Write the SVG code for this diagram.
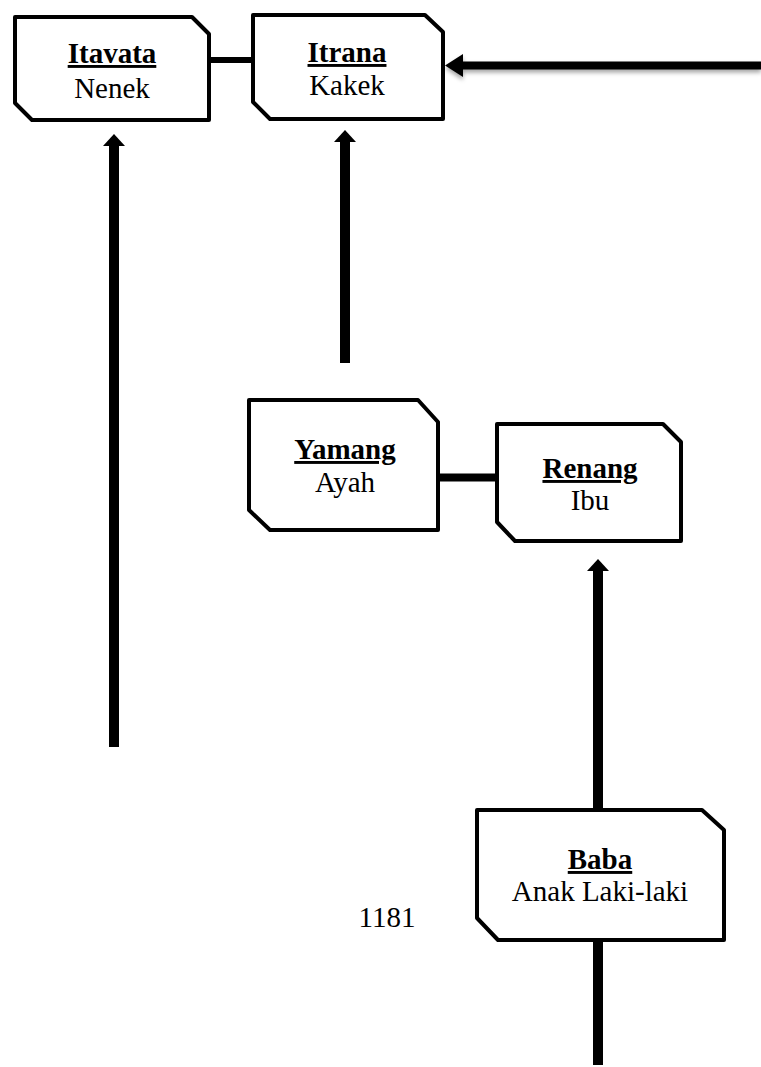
<svg xmlns="http://www.w3.org/2000/svg" width="761" height="1067" viewBox="0 0 761 1067">
<style>
.box{fill:#fff;stroke:#000;stroke-width:4;stroke-linejoin:round}
.t{font-family:"Liberation Serif","Times New Roman",serif;font-size:29px;fill:#000;text-anchor:middle}
.b{font-weight:bold;text-decoration:underline}
.link{stroke:#000;fill:none}
.num{font-family:"Liberation Serif","Times New Roman",serif;font-size:29px;fill:#000;text-anchor:middle}
</style>
<defs>
<marker id="headUp" markerUnits="userSpaceOnUse" viewBox="0 0 12 22" markerWidth="12" markerHeight="22" refX="0" refY="11" orient="auto">
<path d="M0,0 L12,11 L0,22 Z" fill="#000"/>
</marker>
<marker id="headLeft" markerUnits="userSpaceOnUse" viewBox="0 0 18 23" markerWidth="18" markerHeight="23" refX="0" refY="11.5" orient="auto">
<path d="M0,0 L18,11.5 L0,23 Z" fill="#000"/>
</marker>
<filter id="shadow" filterUnits="userSpaceOnUse" x="430" y="40" width="340" height="60">
<feDropShadow dx="0" dy="3" stdDeviation="2" flood-color="#000" flood-opacity="0.35"/>
</filter>
</defs>
<rect width="761" height="1067" fill="#fff"/>
<g id="connectors">
<line class="link" x1="211" y1="60" x2="251" y2="60" stroke-width="6"/>
<line class="link" x1="440" y1="477.5" x2="495" y2="477.5" stroke-width="8"/>
<line class="link" x1="114" y1="747" x2="114" y2="146" stroke-width="10" marker-end="url(#headUp)"/>
<line class="link" x1="345" y1="363" x2="345" y2="142" stroke-width="10" marker-end="url(#headUp)"/>
<line class="link" x1="598" y1="808" x2="598" y2="571" stroke-width="10" marker-end="url(#headUp)"/>
<line class="link" x1="598" y1="940" x2="598" y2="1065" stroke-width="10"/>
<g filter="url(#shadow)">
<line class="link" x1="761" y1="65.5" x2="463" y2="65.5" stroke-width="8" marker-end="url(#headLeft)"/>
</g>
</g>
<g id="itavata">
<path class="box" d="M15,17 H192 L209,34 V120 H32 L15,103 Z"/>
<text class="t b" x="112" y="63">Itavata</text>
<text class="t" x="112" y="98">Nenek</text>
</g>
<g id="itrana">
<path class="box" d="M253,15 H425 L443,32 V119 H270 L253,102 Z"/>
<text class="t b" x="347" y="62">Itrana</text>
<text class="t" x="347" y="95">Kakek</text>
</g>
<g id="yamang">
<path class="box" d="M249,400 H418 L438,422 V530 H270 L249,510 Z"/>
<text class="t b" x="345" y="459">Yamang</text>
<text class="t" x="345" y="492">Ayah</text>
</g>
<g id="renang">
<path class="box" d="M497,424 H663 L681,442 V541 H515 L497,522 Z"/>
<text class="t b" x="590" y="478">Renang</text>
<text class="t" x="590" y="510">Ibu</text>
</g>
<g id="baba">
<path class="box" d="M477,810 H702 L724,830 V940 H498 L477,918 Z"/>
<text class="t b" x="600" y="869">Baba</text>
<text class="t" x="600" y="901">Anak Laki-laki</text>
</g>
<text class="num" x="387" y="927">1181</text>
</svg>
